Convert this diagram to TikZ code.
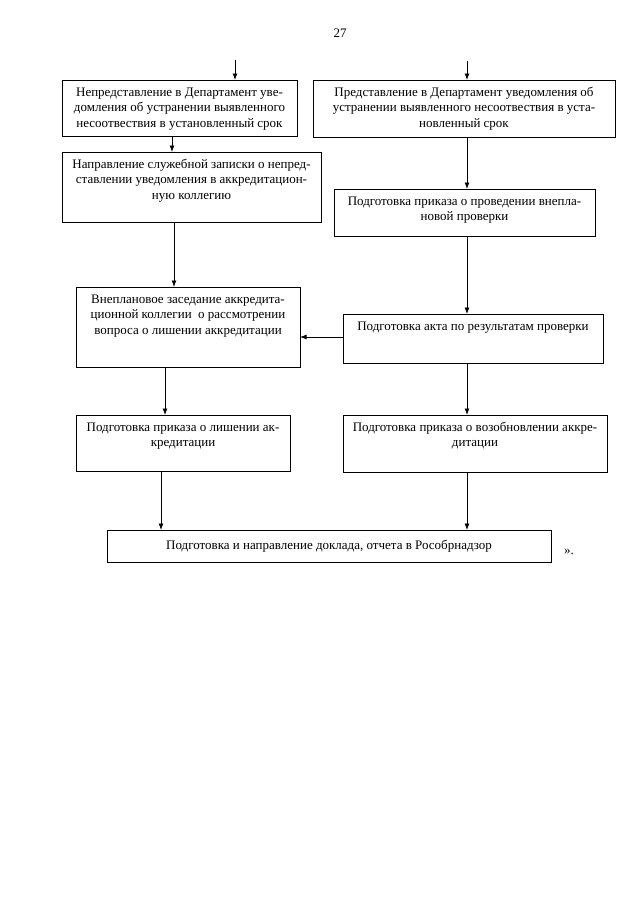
\documentclass[tikz,border=0pt]{standalone}
\usepackage{fontspec}
\setmainfont{Liberation Serif}
\usetikzlibrary{arrows.meta}
\newcommand\bt[3]{\parbox[c][#2][t]{#1}{\centering\fontsize{13pt}{15.6pt}\selectfont\rule{0pt}{16pt}#3\par}}
\begin{document}
\begin{tikzpicture}[x=1pt,y=-1pt,
  box/.style={draw, line width=0.8pt, inner sep=0pt, outer sep=0pt, anchor=north west},
  arr/.style={draw, line width=0.8pt, -{Latex[length=6.5pt,width=5pt]}},
  plain/.style={inner sep=0pt, font=\fontsize{13pt}{15.6pt}\selectfont}]
\useasboundingbox[fill=white] (0,0) rectangle (640,905);
\node[plain] (pg) at (340,33) {27};
\node[box] (b1) at (62,80) {\bt{235pt}{56pt}{Непредставление в Департамент уве-\\домления об устранении выявленного\\несоотвествия в установленный срок}};
\node[box] (b2) at (313,80) {\bt{302pt}{57pt}{Представление в Департамент уведомления об\\устранении выявленного несоотвествия в уста-\\новленный срок}};
\node[box] (b3) at (62,152) {\bt{259pt}{70pt}{Направление служебной записки о непред-\\ставлении уведомления в аккредитацион-\\ную коллегию}};
\node[box] (b4) at (334,189) {\bt{261pt}{47pt}{Подготовка приказа о проведении внепла-\\новой проверки}};
\node[box] (b5) at (76,287) {\bt{224pt}{80pt}{Внеплановое заседание аккредита-\\ционной коллегии\ \ о рассмотрении\\вопроса о лишении аккредитации}};
\node[box] (b6) at (343,314) {\bt{260pt}{49pt}{Подготовка акта по результатам проверки}};
\node[box] (b7) at (76,415) {\bt{214pt}{56pt}{Подготовка приказа о лишении ак-\\кредитации}};
\node[box] (b8) at (343,415) {\bt{264pt}{57pt}{Подготовка приказа о возобновлении аккре-\\дитации}};
\node[box] (b9) at (107,530) {\parbox[c][32pt][c]{444pt}{\centering\fontsize{13pt}{15.6pt}\selectfont Подготовка и направление доклада, отчета в Рособрнадзор}};
\node[plain] (q) at (569,552) {».};
\coordinate (t1) at (235,60);
\coordinate (t2) at (467,61);
\coordinate (cA) at (172,0);
\coordinate (cB) at (174,0);
\coordinate (cC) at (165,0);
\coordinate (cD) at (161,0);
\coordinate (cR) at (467,0);
\coordinate (rY) at (0,337);
\draw[arr] (t1) -- (t1 |- b1.north);
\draw[arr] (t2) -- (t2 |- b2.north);
\draw[arr] (b1.south -| cA) -- (b3.north -| cA);
\draw[arr] (b3.south -| cB) -- (b5.north -| cB);
\draw[arr] (b2.south -| cR) -- (b4.north -| cR);
\draw[arr] (b4.south -| cR) -- (b6.north -| cR);
\draw[arr] (b6.west |- rY) -- (b5.east |- rY);
\draw[arr] (b5.south -| cC) -- (b7.north -| cC);
\draw[arr] (b6.south -| cR) -- (b8.north -| cR);
\draw[arr] (b7.south -| cD) -- (b9.north -| cD);
\draw[arr] (b8.south -| cR) -- (b9.north -| cR);
\end{tikzpicture}
\end{document}
